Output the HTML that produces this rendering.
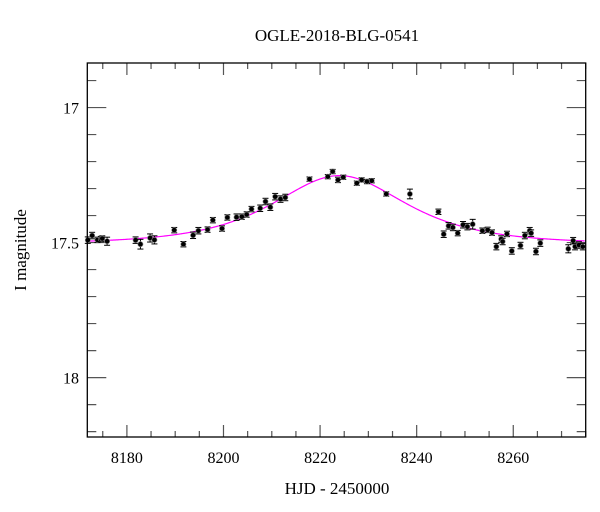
<!DOCTYPE html>
<html><head><meta charset="utf-8"><style>
html,body{margin:0;padding:0;background:#fff;}
svg{display:block;font-family:"Liberation Serif",serif;}
</style></head><body>
<svg id="chart" width="600" height="512" viewBox="0 0 600 512" xmlns="http://www.w3.org/2000/svg">
<text x="337" y="41" font-size="17" text-anchor="middle">OGLE-2018-BLG-0541</text>
<text transform="translate(26,250) rotate(-90)" font-size="17" text-anchor="middle">I magnitude</text>
<text x="337" y="494" font-size="17" text-anchor="middle">HJD - 2450000</text>
<path id="ticks" fill="none" stroke="#555" stroke-width="1.2"/>
<g id="labels"></g>
<path id="model" fill="none" stroke="#ff00ff" stroke-width="1.2"/>
<g id="points"></g>
<rect x="87.3" y="63" width="498.4" height="374" fill="none" stroke="#000" stroke-width="1.3"/>
</svg>
<script>
const times = [8171.9,8172.8,8173.9,8174.6,8174.9,8175.9,8181.8,8182.8,8184.8,8185.7,8189.8,8191.7,8193.7,8194.8,8196.7,8197.8,8199.7,8200.8,8202.7,8203.8,8204.8,8205.8,8207.6,8208.7,8209.7,8210.7,8211.8,8212.8,8217.8,8221.6,8222.6,8223.7,8224.8,8227.6,8228.6,8229.7,8230.7,8233.7,8238.6,8244.5,8245.6,8246.6,8247.5,8248.5,8249.6,8250.5,8251.6,8253.6,8254.7,8255.6,8256.5,8257.5,8257.8,8258.7,8259.7,8261.5,8262.4,8263.4,8263.7,8264.7,8265.6,8271.4,8272.4,8272.8,8273.6,8274.4];
const mags = [17.491,17.474,17.490,17.487,17.485,17.495,17.491,17.506,17.483,17.490,17.454,17.506,17.473,17.456,17.452,17.417,17.448,17.407,17.406,17.404,17.396,17.376,17.373,17.348,17.369,17.330,17.339,17.333,17.265,17.256,17.237,17.268,17.258,17.280,17.268,17.274,17.271,17.320,17.320,17.386,17.469,17.438,17.444,17.465,17.434,17.441,17.432,17.456,17.453,17.463,17.515,17.487,17.496,17.468,17.531,17.511,17.474,17.456,17.465,17.533,17.502,17.523,17.493,17.515,17.509,17.515];
const errs = [0.012,0.012,0.010,0.010,0.010,0.015,0.012,0.018,0.015,0.015,0.010,0.010,0.012,0.012,0.010,0.010,0.010,0.010,0.012,0.010,0.010,0.010,0.012,0.012,0.012,0.012,0.012,0.012,0.008,0.008,0.008,0.010,0.008,0.008,0.008,0.008,0.008,0.008,0.018,0.010,0.012,0.012,0.012,0.010,0.012,0.012,0.018,0.010,0.010,0.010,0.012,0.012,0.012,0.010,0.012,0.012,0.012,0.012,0.012,0.012,0.012,0.015,0.012,0.012,0.012,0.012];
const modelParams = [8224, 1.13, 15.5, 17.505]; // t0, u0, tE, baseline
const xTickLabels = ["8180","8200","8220","8240","8260"];
const yTickLabels = ["17","17.5","18"];

const X0=87.3, X1=585.7, T0=8171.8, T1=8275.0;
const Y0=63, Y1=437, M0=16.835, M1=18.22;
const xs = t => X0 + (t-T0)/(T1-T0)*(X1-X0);
const ys = m => Y0 + (m-M0)/(M1-M0)*(Y1-Y0);
const NS="http://www.w3.org/2000/svg";
function mk(tag, attrs, parent){const e=document.createElementNS(NS,tag);for(const k in attrs)e.setAttribute(k,attrs[k]);parent.appendChild(e);return e;}

let td='';
for(let t=8175;t<=T1;t+=5){
  const major=(t%20===0), L=major?12:6, x=xs(t).toFixed(2);
  td+=`M${x},${Y1}V${Y1-L}M${x},${Y0}V${Y0+L}`;
}
for(let i=169;i<=182;i++){
  const m=i/10; if(m<M0||m>M1) continue;
  const major=(i%5===0), L=major?19:9, y=ys(m).toFixed(2);
  td+=`M${X0},${y}H${X0+L}M${X1},${y}H${X1-L}`;
}
document.getElementById('ticks').setAttribute('d',td);

const lg=document.getElementById('labels');
xTickLabels.forEach(s=>{
  const e=mk('text',{x:xs(parseFloat(s)),y:463,'font-size':16,'text-anchor':'middle'},lg);
  e.textContent=s;
  
  
});
yTickLabels.forEach(s=>{
  const e=mk('text',{x:79,y:ys(parseFloat(s))+6,'font-size':16,'text-anchor':'end'},lg);
  e.textContent=s;
  
  
});

const [t0,u0,tE,base]=modelParams;
let d='';
for(let t=T0;t<=T1;t+=0.25){
  const tau=(t-t0)/tE, u=Math.sqrt(u0*u0+tau*tau);
  const A=(u*u+2)/(u*Math.sqrt(u*u+4));
  const m=base-2.5*Math.log10(A);
  d+=(d?'L':'M')+xs(t).toFixed(2)+','+ys(m).toFixed(2);
}
document.getElementById('model').setAttribute('d',d);

const pg=document.getElementById('points');
times.forEach((t,i)=>{
  const x=xs(t), y=ys(mags[i]), ya=ys(mags[i]-errs[i]), yb=ys(mags[i]+errs[i]);
  const g=mk('g',{},pg);
  
  
  mk('line',{x1:x,x2:x,y1:ya,y2:yb,stroke:'#000','stroke-width':1},g);
  mk('line',{x1:x-3,x2:x+3,y1:ya,y2:ya,stroke:'#000','stroke-width':1},g);
  mk('line',{x1:x-3,x2:x+3,y1:yb,y2:yb,stroke:'#000','stroke-width':1},g);
  mk('circle',{cx:x,cy:y,r:2.6,fill:'#000',stroke:'#888','stroke-width':0.6},g);
});
</script>
</body></html>
